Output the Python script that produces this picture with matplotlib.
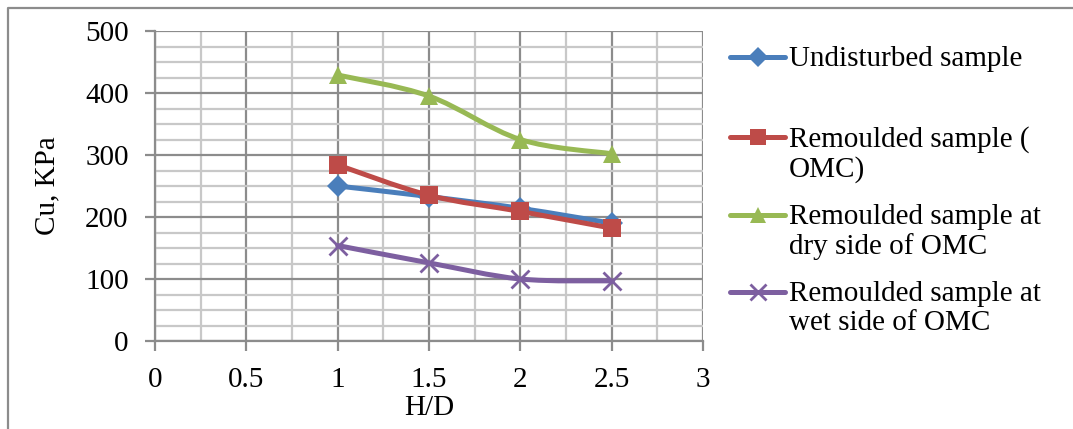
import numpy as np
import matplotlib.pyplot as plt
from matplotlib.path import Path
from matplotlib.patches import PathPatch
from matplotlib.lines import Line2D
from matplotlib.ticker import MultipleLocator

plt.rcParams['font.family'] = ['Liberation Serif', 'DejaVu Serif']

# Data
hd = [1, 1.5, 2, 2.5]
undisturbed = [250, 233, 214, 190]
remoulded_omc = [284, 235, 209, 182]
remoulded_dry = [429, 395, 325, 302]
remoulded_wet = [154, 126, 100, 97]

labels = ["Undisturbed sample",
          "Remoulded sample (\nOMC)",
          "Remoulded sample at\ndry side of OMC",
          "Remoulded sample at\nwet side of OMC"]
colors = ["#4A7EBB", "#BE4B48", "#98B954", "#7D5FA0"]
markers = ["D", "s", "^", "x"]
msizes = [11, 13, 13, 13]

FS = 21
W, H = 1073, 429
fig = plt.figure(figsize=(W / 100, H / 100), dpi=100)
ax = fig.add_axes([155 / W, 1 - 341 / H, (703 - 155) / W, (341 - 31) / H])


def smooth_path(x, y):
    # Excel-style smoothed line as cubic Bezier segments
    x = np.asarray(x, float)
    y = np.asarray(y, float)
    n = len(x)
    verts = [(x[0], y[0])]
    codes = [Path.MOVETO]
    for i in range(n - 1):
        p0 = np.array([x[max(i - 1, 0)], y[max(i - 1, 0)]])
        p1 = np.array([x[i], y[i]])
        p2 = np.array([x[i + 1], y[i + 1]])
        p3 = np.array([x[min(i + 2, n - 1)], y[min(i + 2, n - 1)]])
        c1 = p1 + (p2 - p0) / 6
        c2 = p2 - (p3 - p1) / 6
        verts += [tuple(c1), tuple(c2), tuple(p2)]
        codes += [Path.CURVE4] * 3
    return Path(verts, codes)


series = [undisturbed, remoulded_omc, remoulded_dry, remoulded_wet]
for i, vals in enumerate(series):
    patch = PathPatch(smooth_path(hd, vals), facecolor='none', edgecolor=colors[i],
                      linewidth=3.6, capstyle='round', joinstyle='round', zorder=3 + i)
    ax.add_patch(patch)
    mew = 2 if markers[i] == 'x' else 0
    ax.plot(hd, vals, linestyle='none', marker=markers[i], markersize=msizes[i],
            color=colors[i], markeredgewidth=mew, zorder=3 + i)

ax.set_xlim(0, 3)
ax.set_ylim(0, 500)
ax.xaxis.set_major_locator(MultipleLocator(0.5))
ax.xaxis.set_minor_locator(MultipleLocator(0.25))
ax.yaxis.set_major_locator(MultipleLocator(100))
ax.yaxis.set_minor_locator(MultipleLocator(25))
ax.set_xticks([0, 0.5, 1, 1.5, 2, 2.5, 3])
ax.set_xticklabels(["0", "0.5", "1", "1.5", "2", "2.5", "3"])

ax.grid(which='major', color='#8c8c8c', linewidth=1.6)
ax.grid(which='minor', color='#c8c8c8', linewidth=1.6)
ax.set_axisbelow(True)

for side in ['top', 'right']:
    ax.spines[side].set_visible(False)
for side in ['left', 'bottom']:
    ax.spines[side].set_color('#8c8c8c')
    ax.spines[side].set_linewidth(1.6)

ax.tick_params(which='major', direction='out', length=7, width=1.6, color='#8c8c8c',
               labelsize=FS)
ax.tick_params(axis='y', pad=12)
ax.tick_params(axis='x', pad=12)
ax.tick_params(which='minor', length=0)
ax.set_xlabel("H/D", fontsize=FS, labelpad=1)
ax.set_ylabel("Cu, KPa", fontsize=FS, labelpad=18)

# legend drawn at the right, handle aligned to the first text line
entry_y = [57, 137, 215, 292]
for i in range(4):
    yf = 1 - entry_y[i] / H
    fig.add_artist(Line2D([730 / W, 785 / W], [yf, yf], color=colors[i], linewidth=3.6,
                          transform=fig.transFigure, solid_capstyle='round'))
    mew = 2 if markers[i] == 'x' else 0
    fig.add_artist(Line2D([757.5 / W], [yf], marker=markers[i], markersize=msizes[i] - 1,
                          color=colors[i], markeredgewidth=mew, linestyle='none',
                          transform=fig.transFigure))
    fig.text(789 / W, yf + 11 / H, labels[i], fontsize=FS, va='top', ha='left',
             linespacing=1.15)

# outer chart border (left and top edges visible)
fig.add_artist(Line2D([8 / W, 8 / W, 1.0], [0, 1 - 8 / H, 1 - 8 / H], color='#8c8c8c',
                      linewidth=1.6, transform=fig.transFigure))

fig.savefig("out.png", dpi=100)
